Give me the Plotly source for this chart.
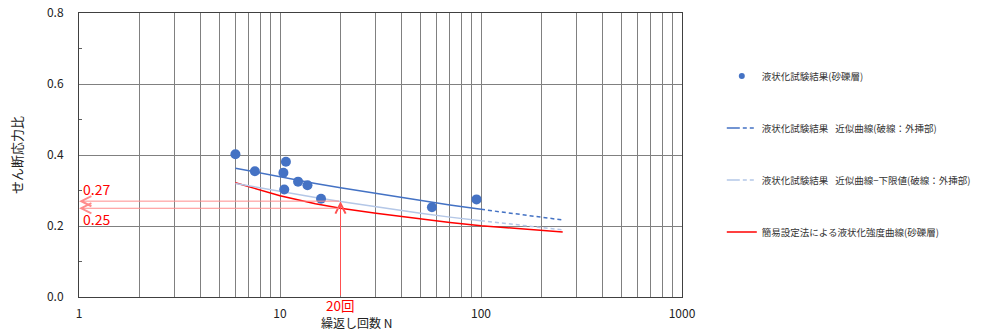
import plotly.graph_objects as go
import numpy as np

FONT = "Noto Sans CJK JP"

# Test results (sand-gravel layer)
test_n = [6.0, 7.5, 10.4, 10.7, 10.5, 12.3, 13.7, 16.0, 57.0, 95.0]
test_ratio = [0.402, 0.354, 0.350, 0.381, 0.303, 0.325, 0.315, 0.277, 0.253, 0.275]

# Approximate curve (solid part, then extrapolated dashed part)
fit_n = [6, 8, 10, 15, 20, 30, 50, 70, 100]
fit_ratio = [0.363, 0.349, 0.338, 0.320, 0.308, 0.292, 0.272, 0.259, 0.247]
fit_ext_n = [100, 150, 200, 255]
fit_ext_ratio = [0.247, 0.234, 0.225, 0.217]

# Approximate curve - lower bound
low_n = [6, 8, 10, 15, 20, 30, 50, 70, 100]
low_ratio = [0.320, 0.307, 0.297, 0.280, 0.269, 0.254, 0.236, 0.225, 0.215]
low_ext_n = [100, 150, 200, 255]
low_ext_ratio = [0.215, 0.203, 0.195, 0.189]

# Simplified method liquefaction strength curve
simp_n = [6, 8, 10, 15, 20, 30, 50, 70, 100, 150, 200, 255]
simp_ratio = [0.322, 0.300, 0.285, 0.263, 0.250, 0.236, 0.220, 0.210, 0.201, 0.193, 0.187, 0.183]

# Read-off values at N = 20
read_n = 20
read_upper = 0.27
read_lower = 0.25

legend_names = [
    "液状化試験結果(砂礫層)",
    "液状化試験結果\u2002 近似曲線(破線：外挿部)",
    "液状化試験結果\u2002 近似曲線−下限値(破線：外挿部)",
    "簡易設定法による液状化強度曲線(砂礫層)",
]

BLUE = "#4472C4"
LIGHT = "#B4C7E7"
RED = "#FF0000"
PINK = "#FF8C8C"

fig = go.Figure()

fig.add_trace(go.Scatter(x=simp_n, y=simp_ratio, mode="lines", line=dict(color=RED, width=1.5), showlegend=False))
fig.add_trace(go.Scatter(x=low_n, y=low_ratio, mode="lines", line=dict(color=LIGHT, width=1.5), showlegend=False))
fig.add_trace(go.Scatter(x=low_ext_n, y=low_ext_ratio, mode="lines", line=dict(color=LIGHT, width=1.5, dash="4px,3px"), showlegend=False))
fig.add_trace(go.Scatter(x=fit_n, y=fit_ratio, mode="lines", line=dict(color=BLUE, width=1.5), showlegend=False))
fig.add_trace(go.Scatter(x=fit_ext_n, y=fit_ext_ratio, mode="lines", line=dict(color=BLUE, width=1.5, dash="4px,3px"), showlegend=False))
fig.add_trace(go.Scatter(x=test_n, y=test_ratio, mode="markers", marker=dict(color=BLUE, size=10), showlegend=False))

# legend entries
fig.add_trace(go.Scatter(x=[None], y=[None], mode="markers", marker=dict(color=BLUE, size=6),
                         name=legend_names[0], legendgroup="a"))
fig.add_trace(go.Scatter(x=[None], y=[None], mode="lines", line=dict(color=BLUE, width=1.5, dash="13px,3px,4px,3px,4px,3px"),
                         name=legend_names[1], legendgroup="b"))
fig.add_trace(go.Scatter(x=[None], y=[None], mode="lines", line=dict(color=LIGHT, width=1.5, dash="13px,3px,4px,3px,4px,3px"),
                         name=legend_names[2], legendgroup="c"))
fig.add_trace(go.Scatter(x=[None], y=[None], mode="lines", line=dict(color=RED, width=1.5),
                         name=legend_names[3], legendgroup="d"))

annotations = []
# vertical arrow at N=20
annotations.append(dict(x=np.log10(read_n), y=read_upper, ax=np.log10(read_n), ay=0.0,
                        xref="x", yref="y", axref="x", ayref="y", showarrow=True,
                        arrowhead=5, arrowsize=2, arrowwidth=1, arrowcolor="#FF5050", text=""))
# horizontal arrows
for v in (read_upper, read_lower):
    annotations.append(dict(x=0.0, y=v, ax=np.log10(read_n), ay=v,
                            xref="x", yref="y", axref="x", ayref="y", showarrow=True,
                            arrowhead=5, arrowsize=2, arrowwidth=1, arrowcolor=PINK, text=""))
annotations.append(dict(x=0.0, y=read_upper, xref="x", yref="y", text=f"{read_upper:.2f}", showarrow=False,
                        xanchor="left", yanchor="bottom", yshift=0, xshift=2,
                        font=dict(color=RED, size=14, family=FONT)))
annotations.append(dict(x=0.0, y=read_lower, xref="x", yref="y", text=f"{read_lower:.2f}", showarrow=False,
                        xanchor="left", yanchor="top", yshift=1, xshift=2,
                        font=dict(color=RED, size=14, family=FONT)))
annotations.append(dict(x=np.log10(read_n), y=0, xref="x", yref="paper", text=f"{read_n}回", showarrow=False,
                        xanchor="center", yanchor="top", yshift=3, borderpad=0,
                        font=dict(color=RED, size=13.5, family=FONT)))
annotations.append(dict(x=np.log10(read_n) + 0.08, y=0, xref="x", yref="paper", text="繰返し回数 N", showarrow=False,
                        xanchor="center", yanchor="top", yshift=-16, borderpad=0,
                        font=dict(color="#222", size=12, family=FONT)))

fig.update_layout(
    width=982, height=332,
    margin=dict(l=79, r=300, t=13, b=35, autoexpand=False),
    paper_bgcolor="white", plot_bgcolor="white",
    font=dict(family=FONT, color="#222", size=12),
    showlegend=True,
    legend=dict(x=1.066, xanchor="left", y=0.829, yanchor="top",
                font=dict(size=9.5, color="#333", family=FONT),
                tracegroupgap=33, bgcolor="rgba(0,0,0,0)"),
    annotations=annotations,
)

fig.update_xaxes(type="log", range=[0, 3], dtick=1, showgrid=True, gridcolor="#808080", gridwidth=1,
                 minor=dict(dtick="D1", showgrid=True, gridcolor="#808080", gridwidth=1, ticks=""),
                 showline=True, linecolor="#404040", linewidth=1, mirror=True, automargin=False,
                 ticks="", ticklabelstandoff=6, tickfont=dict(size=12, family=FONT, color="#222"), zeroline=False)
fig.update_yaxes(range=[0, 0.8], dtick=0.2, tickformat=".1f", showgrid=True, gridcolor="#808080", gridwidth=1,
                 minor=dict(dtick=0.1, ticks="inside", ticklen=3, tickcolor="#606060", showgrid=False),
                 showline=True, linecolor="#404040", linewidth=1, mirror=True, automargin=False,
                 ticks="", ticklabelstandoff=12, tickfont=dict(size=12, family=FONT, color="#222"), zeroline=False,
                 title=dict(text="せん断応力比", font=dict(size=13, family=FONT, color="#222"), standoff=21))

fig.write_html("out.html", config={"displayModeBar": False},
               post_script="document.body.style.margin='0px';")
